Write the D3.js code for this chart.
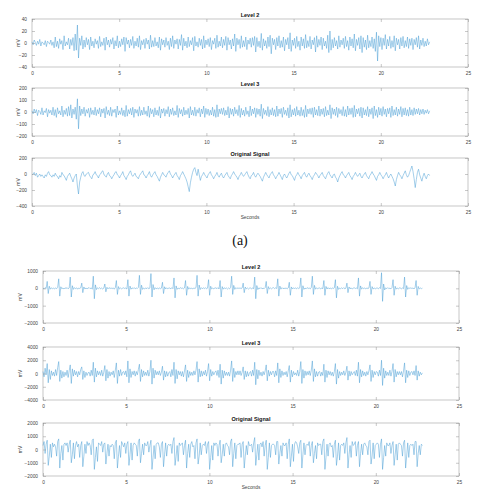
<!DOCTYPE html>
<html><head><meta charset="utf-8">
<script src="https://cdn.jsdelivr.net/npm/d3@7"></script>
<style>html,body{margin:0;padding:0;background:#fff}svg{display:block}</style>
</head><body>
<svg id="c" width="480" height="504"></svg>
<script>
const xTicks = [0,5,10,15,20,25];
const duration = 22.8;
const titles = ["Level 2","Level 3","Original Signal"];

const a2Ticks = [-40,-20,0,20,40];
const a3Ticks = [-200,-100,0,100,200];
const aOTicks = [-400,-200,0,200];
const b2Ticks = [-2000,-1000,0,1000];
const b3Ticks = [-4000,-2000,0,2000,4000];
const bOTicks = [-2000,-1000,0,1000,2000];

const a2 = [
2,-3,5,1,-4,3,-2,6,-5,2,0,-3,4,-6,3,1,-2,5,-4,2,
-8,10,-6,3,-9,7,-2,4,-11,12,-5,2,-3,8,-10,6,-4,9,-13,15,
-12,30,-25,8,-4,12,-10,5,-7,9,-3,6,-11,10,-5,3,-8,7,-2,4,
-9,11,-6,2,-4,8,-12,10,-3,5,-7,6,-2,9,-10,4,-5,12,-8,3,
-6,7,-3,10,-14,9,-2,5,-8,6,-4,11,-9,3,-5,8,-7,12,-11,4,
-3,6,-9,8,-2,5,-10,13,-7,4,-6,9,-5,2,-8,10,-12,7,-3,5,
-7,9,-4,3,-11,8,-6,12,-9,5,-2,7,-10,6,-4,14,-12,8,-5,3,
-8,10,-6,4,-3,9,-13,11,-5,2,-7,8,-4,6,-10,12,-8,5,-3,7,
-6,9,-11,4,-2,8,-9,13,-7,3,-5,10,-8,6,-4,11,-12,9,-3,5,
-10,7,-5,15,-14,8,-3,6,-9,12,-7,4,-6,10,-11,5,-2,8,-7,9,
-4,11,-15,9,-6,3,-8,16,-12,7,-5,4,-9,10,-6,13,-18,8,-3,6,
-11,9,-5,12,-8,4,-7,10,-13,6,-3,9,-10,17,-14,5,-4,8,-9,11,
-6,3,-12,10,-5,7,-9,14,-8,4,-6,11,-10,5,-3,9,-15,12,-7,6,
-4,10,-11,8,-5,3,-9,13,-16,20,-12,6,-8,9,-5,4,-10,12,-7,5,
-3,8,-9,11,-6,4,-12,10,-5,7,-8,15,-13,6,-4,9,-10,12,-16,9,
-7,5,-11,13,-8,4,-6,10,-9,7,-14,18,-30,12,-6,9,-11,8,-4,14,
-10,6,-5,11,-9,4,-7,12,-13,8,-3,6,-10,9,-5,11,-8,4,-6,10,
-9,7,-4,8,-11,6,-3,9,-7,12,-10,5,-4,8,-6,3,-5,7,-3,2];

const a3 = [
10,-15,25,-8,20,-30,15,5,-20,35,-25,10,-5,30,-40,20,-10,15,-25,40,
-30,20,-45,35,-15,10,-25,50,-40,15,-20,30,-35,45,-30,60,-50,25,-20,40,
-60,110,-140,50,-30,25,-15,40,-35,20,-10,30,-45,35,-20,15,-25,40,-30,20,
-15,35,-40,25,-10,30,-50,45,-20,15,-30,40,-35,20,-5,25,-45,50,-25,10,
-20,35,-30,15,-40,55,-35,20,-15,30,-25,40,-45,25,-10,20,-35,45,-30,15,
-25,40,-20,10,-35,50,-45,30,-15,20,-40,35,-25,15,-30,45,-50,25,-10,30,
-35,20,-15,45,-40,25,-20,35,-30,10,-25,55,-45,30,-15,20,-35,40,-25,15,
-20,30,-50,45,-25,15,-30,40,-35,20,-10,35,-40,25,-15,50,-45,30,-20,25,
-30,15,-25,40,-35,20,-45,60,-40,25,-15,30,-20,35,-30,15,-25,45,-50,30,
-20,25,-35,40,-15,20,-30,55,-45,30,-25,15,-35,40,-20,10,-40,50,-30,25,
-15,35,-45,30,-20,25,-35,65,-55,30,-20,15,-30,45,-40,20,-25,35,-30,20,
-40,50,-35,25,-15,30,-45,40,-20,15,-30,35,-50,60,-40,20,-25,30,-35,45,
-25,15,-35,40,-30,20,-45,55,-40,25,-15,30,-20,35,-45,40,-25,20,-30,50,
-35,25,-20,30,-40,45,-30,15,-25,60,-55,35,-20,25,-30,40,-45,30,-15,20,
-30,45,-35,20,-40,50,-25,30,-20,35,-45,55,-40,25,-15,30,-35,40,-50,35,
-25,20,-30,45,-40,25,-20,35,-55,50,-30,20,-45,40,-25,30,-35,45,-20,25,
-40,30,-15,35,-45,50,-30,20,-25,40,-35,25,-20,45,-40,30,-25,35,-30,20,
-35,40,-25,20,-30,35,-20,25,-15,30,-25,20,-15,25,-20,15,-10,20,-15,10];

const aO = [
-10,0,20,-20,10,-40,-20,0,-30,-10,-30,-50,-10,-30,10,30,-10,-20,-40,-10,
-30,10,-20,-30,-60,-20,-40,20,-10,-20,-50,-80,-30,-10,10,-30,-60,-100,-50,-20,
0,-150,-250,-100,-40,10,30,-20,-30,0,10,20,-20,-40,-60,-10,0,30,-10,-20,
-50,-10,0,30,40,-10,-20,-40,0,20,-20,-30,-60,-30,-10,20,30,-10,-20,-50,
-20,0,30,-20,-40,-70,-30,-10,20,40,-10,-30,-10,10,-30,-40,-60,-20,0,20,
40,-10,-20,-50,-20,0,30,-20,-40,-10,10,30,-10,-30,-60,-90,-40,-10,20,-10,
-20,-40,0,20,40,0,-20,-50,-20,0,20,-20,-40,-70,-20,0,30,0,-30,-60,
-100,-160,-220,-110,-40,20,60,80,20,-20,60,-10,-80,-30,-10,20,-10,-30,-50,-10,
10,30,-10,-30,-60,-30,-10,20,-20,-40,-10,10,-30,-50,-20,0,20,-20,-40,-60,
-20,0,30,0,-20,-40,-70,-30,-10,20,-10,-30,-10,10,30,-10,-40,-60,-20,-10,
20,-20,-40,-10,10,-10,-30,-60,-90,-40,-10,20,-10,-30,-50,-10,10,30,-10,-30,
-60,-30,-10,20,-10,-40,-70,-20,0,-30,-50,-20,10,30,-10,-20,-50,-80,-30,-10,
20,-10,-30,-60,-20,0,20,-20,-40,-10,10,-20,-40,-70,-30,-10,20,0,-20,-50,
-20,0,20,-20,-40,-60,-20,10,30,-10,-30,-50,-10,0,-40,-60,-100,-50,-20,10,
30,-10,-20,-50,-20,0,20,-20,-40,-70,-30,-10,20,-10,-30,-10,10,-30,-50,-20,
0,20,-20,-40,-60,-20,0,30,0,-20,-50,-80,-30,-10,20,-10,-30,-60,-30,-10,
20,-20,-50,-20,0,-30,-60,-100,-150,-70,-20,20,-10,-30,-60,-20,10,40,-10,-40,
-20,20,60,100,30,-60,-170,-70,20,60,-10,-50,-90,-30,10,-30,-60,-20,0,-20];

const b2 = [
20,-30,40,-10,400,-300,120,-50,30,-20,10,
-40,30,-20,50,550,-450,90,-30,20,-40,30,
-10,40,-30,20,650,-500,150,-60,40,-20,30,
-50,20,-10,30,300,-250,80,-40,20,-30,10,
40,-20,30,-50,700,-600,200,-70,30,-20,40,
-30,20,-40,10,250,-200,60,-30,40,-10,20,
-20,30,-50,40,450,-350,100,-40,20,-30,10,
30,-10,20,-40,500,-450,130,-50,30,-20,40,
-30,20,-10,50,750,-350,180,-60,20,-40,30,
-20,40,-30,20,850,-500,220,-80,40,-30,20,
-40,30,-20,10,350,-300,90,-40,30,-20,10,
20,-30,40,-20,600,-550,140,-60,20,-30,40,
-10,30,-40,20,450,-400,110,-50,30,-20,10,
-30,20,-10,40,750,-450,190,-70,40,-20,30,
-20,40,-30,10,500,-400,120,-40,20,-30,20,
30,-20,40,-40,450,-500,100,-50,30,-10,20,
-40,20,-30,50,700,-350,170,-60,40,-20,30,
-10,30,-20,20,300,-250,70,-30,20,-40,10,
20,-40,30,-20,650,-600,160,-70,30,-20,40,
-30,10,-20,40,400,-300,100,-40,20,-30,20,
40,-20,30,-10,550,-450,130,-50,40,-20,10,
-20,30,-40,20,350,-400,80,-40,30,-10,20,
-30,40,-20,30,600,-500,150,-60,20,-30,40,
-10,20,-30,50,700,-350,170,-50,30,-20,10,
20,-40,30,-20,450,-400,110,-40,40,-30,20,
-30,20,-10,30,500,-550,120,-60,20,-20,30,
-20,40,-30,10,300,-250,80,-30,30,-40,10,
30,-10,20,-30,600,-450,140,-50,40,-20,20,
-40,30,-20,20,400,-350,100,-40,20,-30,10,
20,-30,40,-10,900,-750,250,-90,30,-20,40,
-20,10,-30,40,500,-400,120,-50,20,-30,20,
30,-40,20,-20,650,-500,160,-60,40,-10,30,
-10,20,-30,30,450,-400,110,-40,20,-20,10];

const b3 = [
300,-500,800,-200,1500,-1400,600,-900,400,-300,200,
-400,600,-300,900,1800,-1200,500,-700,300,-500,200,
-300,500,-600,400,1300,-1500,700,-400,500,-200,300,
-500,300,-200,600,1000,-900,400,-600,200,-300,100,
200,-400,500,-300,1700,-1300,800,-500,400,-200,300,
-300,500,-400,200,1200,-1100,600,-700,300,-400,200,
-200,400,-600,500,1600,-1500,500,-400,600,-300,200,
300,-200,400,-500,1900,-1400,700,-600,300,-200,400,
-400,300,-200,600,1400,-1200,600,-500,400,-300,200,
-300,500,-400,300,2000,-1600,800,-700,500,-200,300,
-200,400,-300,200,1100,-1000,400,-500,300,-400,100,
300,-500,600,-300,1700,-1500,600,-800,400,-200,300,
-400,300,-500,400,1300,-1200,500,-600,300,-300,200,
-300,400,-200,500,1800,-1300,700,-500,400,-400,300,
-200,500,-400,300,1500,-1100,600,-400,300,-200,200,
400,-300,500,-600,1400,-1600,500,-700,400,-300,200,
-300,200,-400,500,1900,-1200,800,-600,300,-200,400,
-200,400,-300,200,1000,-900,400,-500,300,-400,100,
300,-400,500,-300,1700,-1700,600,-800,500,-300,200,
-400,300,-200,400,1300,-1100,500,-400,300,-200,300,
300,-500,400,-300,1600,-1400,700,-600,400,-300,200,
-200,300,-500,400,1200,-1300,500,-500,300,-200,100,
-300,500,-400,300,1800,-1500,600,-700,400,-300,300,
-200,400,-300,500,1900,-1200,700,-500,300,-400,200,
300,-400,200,-300,1400,-1300,500,-600,400,-200,300,
-300,200,-400,300,1500,-1600,600,-700,300,-300,200,
-200,400,-300,200,1100,-1000,400,-400,300,-200,100,
300,-300,500,-400,1700,-1400,600,-500,400,-300,200,
-400,300,-200,400,1300,-1200,500,-600,300,-200,300,
200,-400,500,-300,2000,-1800,800,-700,400,-300,200,
-300,500,-400,300,1500,-1300,600,-500,300,-200,300,
-200,300,-500,400,1600,-1400,500,-600,400,-300,200,
300,-200,400,-300,1200,-1000,400,-400,200,-200,100];

const bO = [
300,600,-300,400,700,-1200,-500,400,-600,500,200,
400,200,-500,600,800,-1400,-300,300,-800,400,500,
300,500,-200,400,700,-1000,-400,500,-700,300,600,
200,400,-600,300,600,-1300,-500,400,-300,600,300,
500,300,-400,700,800,-1500,-600,200,-900,500,400,
300,600,-200,400,500,-1100,-300,400,-500,300,200,
400,300,-700,500,700,-1400,-500,300,-600,600,400,
200,500,-300,400,600,-1200,-400,500,-800,300,500,
400,300,-500,600,800,-1000,-300,400,-400,500,300,
300,600,-200,300,700,-1500,-600,300,-700,400,500,
500,200,-600,400,600,-1300,-400,500,-500,300,400,
300,400,-300,600,900,-1200,-500,300,-900,500,300,
400,500,-400,300,700,-1400,-300,400,-600,400,600,
200,300,-700,500,800,-1100,-500,500,-400,300,400,
300,600,-300,400,600,-1500,-600,300,-800,500,300,
500,400,-500,300,700,-1000,-400,400,-500,400,500,
300,200,-400,600,800,-1300,-300,500,-700,300,400,
400,500,-600,400,600,-1400,-500,300,-400,600,300,
300,400,-200,500,900,-1200,-400,400,-800,400,500,
200,600,-500,300,700,-1500,-600,500,-600,300,400,
400,300,-400,600,600,-1100,-300,300,-500,500,300,
300,500,-700,400,800,-1300,-500,400,-900,400,600,
500,200,-300,500,700,-1400,-400,500,-400,300,400,
300,600,-500,300,600,-1000,-300,300,-700,500,300,
400,400,-400,600,800,-1500,-600,400,-500,400,500,
200,300,-600,400,700,-1200,-500,500,-800,300,400,
300,500,-300,500,900,-1400,-400,300,-600,600,300,
400,600,-500,300,600,-1300,-300,400,-400,400,500,
300,200,-400,600,700,-1100,-500,500,-700,300,400,
500,400,-600,400,800,-1500,-600,300,-500,500,300,
300,500,-300,300,600,-1200,-400,400,-800,400,500,
400,300,-500,500,700,-1400,-500,500,-600,300,400,
300,400,-400,600,600,-1300,-300,300,-400,400,300];

const svg = d3.select("#c");
const FONT = "'Liberation Sans', Arial, sans-serif";
const LINE = "#4a9fd4";

function panel(o){
  const x = d3.scaleLinear().domain([0,25]).range([o.l,o.r]);
  const y = d3.scaleLinear().domain(d3.extent(o.ticks)).range([o.b,o.t]);
  const t = d3.scaleLinear().domain([0,o.data.length-1]).range([0,duration]);
  const g = svg.append("g");
  g.append("rect").attr("x",o.l).attr("y",o.t).attr("width",o.r-o.l).attr("height",o.b-o.t)
    .attr("fill","#fff").attr("stroke","#a0a0a0").attr("stroke-width",0.6);
  g.append("path").datum(o.data)
    .attr("d", d3.line().x((d,i)=>x(t(i))).y(d=>y(d)))
    .attr("fill","none").attr("stroke",LINE).attr("stroke-width",0.5);
  const ax = d3.axisBottom(x).tickValues(xTicks).tickSize(-3).tickPadding(5).tickFormat(d3.format("d"));
  const axT = d3.axisTop(x).tickValues(xTicks).tickSize(-3).tickFormat("");
  const ay = d3.axisLeft(y).tickValues(o.ticks).tickSize(-3).tickPadding(5).tickFormat(d3.format("d"));
  const ayR = d3.axisRight(y).tickValues(o.ticks).tickSize(-3).tickFormat("");
  const style = s => { s.select(".domain").remove();
    s.selectAll("line").attr("stroke","#909090").attr("stroke-width",0.5);
    s.selectAll("text").attr("fill","#444").style("font-family",FONT).style("font-size","4.8px"); };
  g.append("g").attr("transform",`translate(0,${o.b})`).call(ax).call(style);
  g.append("g").attr("transform",`translate(0,${o.t})`).call(axT).call(style);
  g.append("g").attr("transform",`translate(${o.l},0)`).call(ay).call(style);
  g.append("g").attr("transform",`translate(${o.r},0)`).call(ayR).call(style);
  g.append("text").attr("x",(o.l+o.r)/2).attr("y",o.t-2.5).attr("text-anchor","middle")
    .style("font-family",FONT).style("font-size","5.5px").style("font-weight","bold").attr("fill","#111").text(o.title);
  g.append("text").attr("transform",`translate(${o.ml},${(o.t+o.b)/2}) rotate(-90)`).attr("text-anchor","middle")
    .style("font-family",FONT).style("font-size","5px").attr("fill","#444").text("mV");
  if(o.sec){
    g.append("text").attr("x",(o.l+o.r)/2).attr("y",o.b+13).attr("text-anchor","middle")
      .style("font-family",FONT).style("font-size","4.8px").attr("fill","#444").text("Seconds");
  }
}

panel({l:32,r:468,t:19,b:67,ticks:a2Ticks,data:a2,title:titles[0],ml:20});
panel({l:32,r:468,t:88,b:136,ticks:a3Ticks,data:a3,title:titles[1],ml:20});
panel({l:32,r:468,t:158,b:206,ticks:aOTicks,data:aO,title:titles[2],ml:20,sec:true});

svg.append("text").attr("x",240).attr("y",245).attr("text-anchor","middle")
  .style("font-family","'Times New Roman','Liberation Serif',serif").style("font-size","14px").attr("fill","#111").text("(a)");

panel({l:43,r:459,t:271,b:323,ticks:b2Ticks,data:b2,title:titles[0],ml:22});
panel({l:43,r:459,t:347,b:400,ticks:b3Ticks,data:b3,title:titles[1],ml:22});
panel({l:43,r:459,t:423,b:476,ticks:bOTicks,data:bO,title:titles[2],ml:22,sec:true});
</script>
</body></html>
